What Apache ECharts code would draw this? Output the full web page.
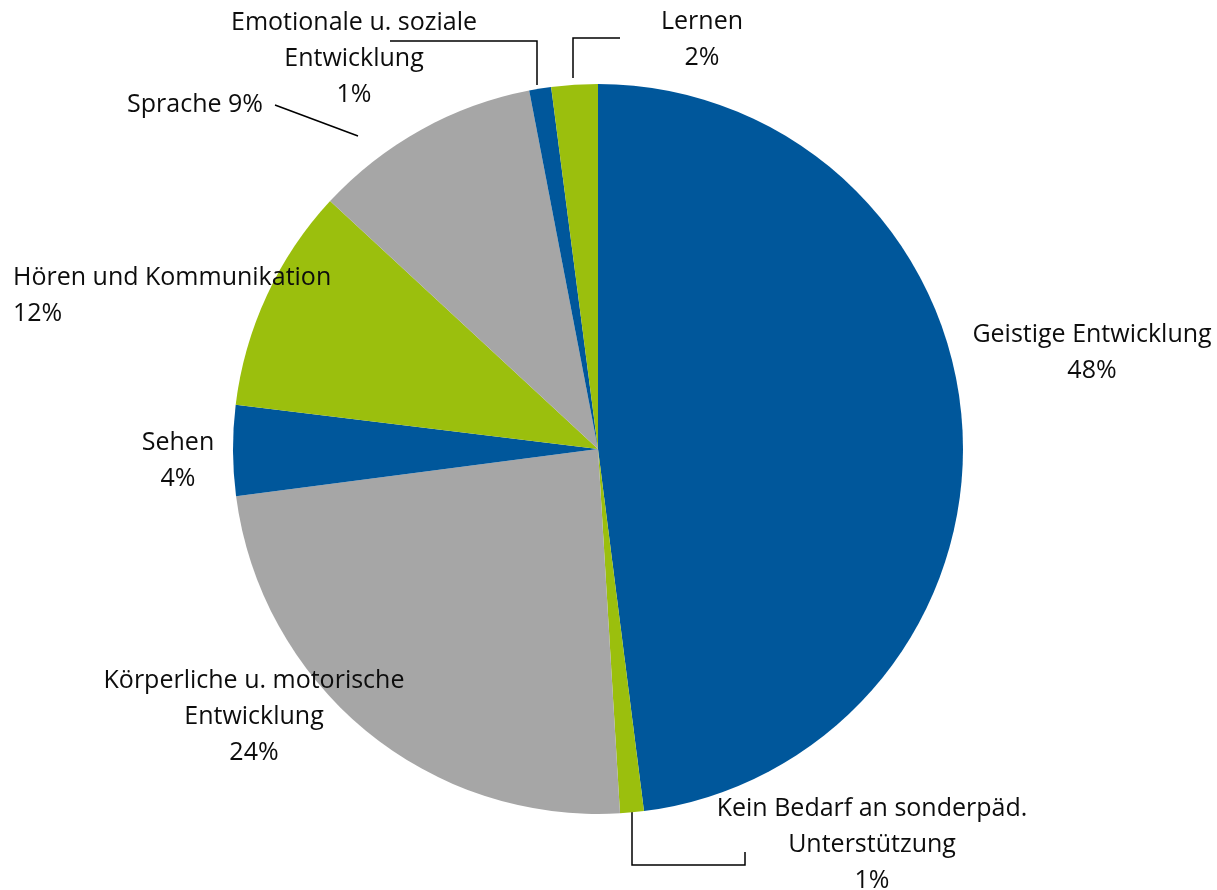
<!DOCTYPE html>
<html>
<head>
<meta charset="utf-8">
<script src="https://cdn.jsdelivr.net/npm/echarts@6/dist/echarts.min.js"></script>
<style>html,body{margin:0;padding:0;background:#fff}#c{width:1217px;height:890px}</style>
</head>
<body>
<div id="c"></div>
<script>
// Categories in clockwise order starting at 12 o'clock
const categories = [
  'Geistige Entwicklung',
  'Kein Bedarf an sonderpäd.\nUnterstützung',
  'Körperliche u. motorische\nEntwicklung',
  'Sehen',
  'Hören und Kommunikation',
  'Sprache',
  'Emotionale u. soziale\nEntwicklung',
  'Lernen'
];
// Slice sizes (percent of the circle)
const values = [48.0, 1.05, 23.9, 4.0, 9.95, 10.1, 0.97, 2.05];
// Percentages printed in the labels
const pctLabels = ['48%', '1%', '24%', '4%', '12%', '9%', '1%', '2%'];
const colors = ['#00579B', '#9BBF0D', '#A6A6A6', '#00579B', '#9BBF0D', '#A6A6A6', '#00579B', '#9BBF0D'];

// Label placement (layout only)
const labelLayout = [
  { x: 1092, y: 353, align: 'center', sep: '\n' },
  { x: 872, y: 845, align: 'center', sep: '\n', line: [[632, 812], [632, 865], [745, 865], [745, 852]] },
  { x: 254, y: 717, align: 'center', sep: '\n' },
  { x: 178, y: 461, align: 'center', sep: '\n' },
  { x: 13, y: 296, align: 'left', sep: '\n' },
  { x: 195, y: 105, align: 'center', sep: ' ', line: [[358, 136], [275, 105]] },
  { x: 354, y: 59, align: 'center', sep: '\n', line: [[537, 85], [537, 41], [390, 41]] },
  { x: 702, y: 40, align: 'center', sep: '\n', line: [[573, 78], [573, 38], [620, 38]] }
];

const data = categories.map((c, i) => ({
  name: c,
  value: values[i],
  itemStyle: { color: colors[i] },
  labelLine: { show: !!labelLayout[i].line }
}));

const chart = echarts.init(document.getElementById('c'), null, { renderer: 'canvas' });
chart.setOption({
  animation: false,
  backgroundColor: '#ffffff',
  series: [{
    type: 'pie',
    center: [598, 449],
    radius: 365,
    startAngle: 90,
    clockwise: true,
    avoidLabelOverlap: false,
    data: data,
    itemStyle: { borderWidth: 0 },
    label: {
      show: true,
      position: 'outside',
      color: '#0d0d0d',
      fontFamily: 'Open Sans',
      fontSize: 25,
      lineHeight: 36,
      align: 'center',
      formatter: p => p.name + labelLayout[p.dataIndex].sep + pctLabels[p.dataIndex]
    },
    labelLine: {
      show: true,
      smooth: false,
      lineStyle: { color: '#000', width: 1.5 }
    },
    labelLayout: function (p) {
      const L = labelLayout[p.dataIndex];
      const r = { x: L.x, y: L.y, align: L.align, verticalAlign: 'middle', hideOverlap: false, moveOverlap: null };
      if (L.line) r.labelLinePoints = L.line;
      return r;
    }
  }]
});
</script>
</body>
</html>
